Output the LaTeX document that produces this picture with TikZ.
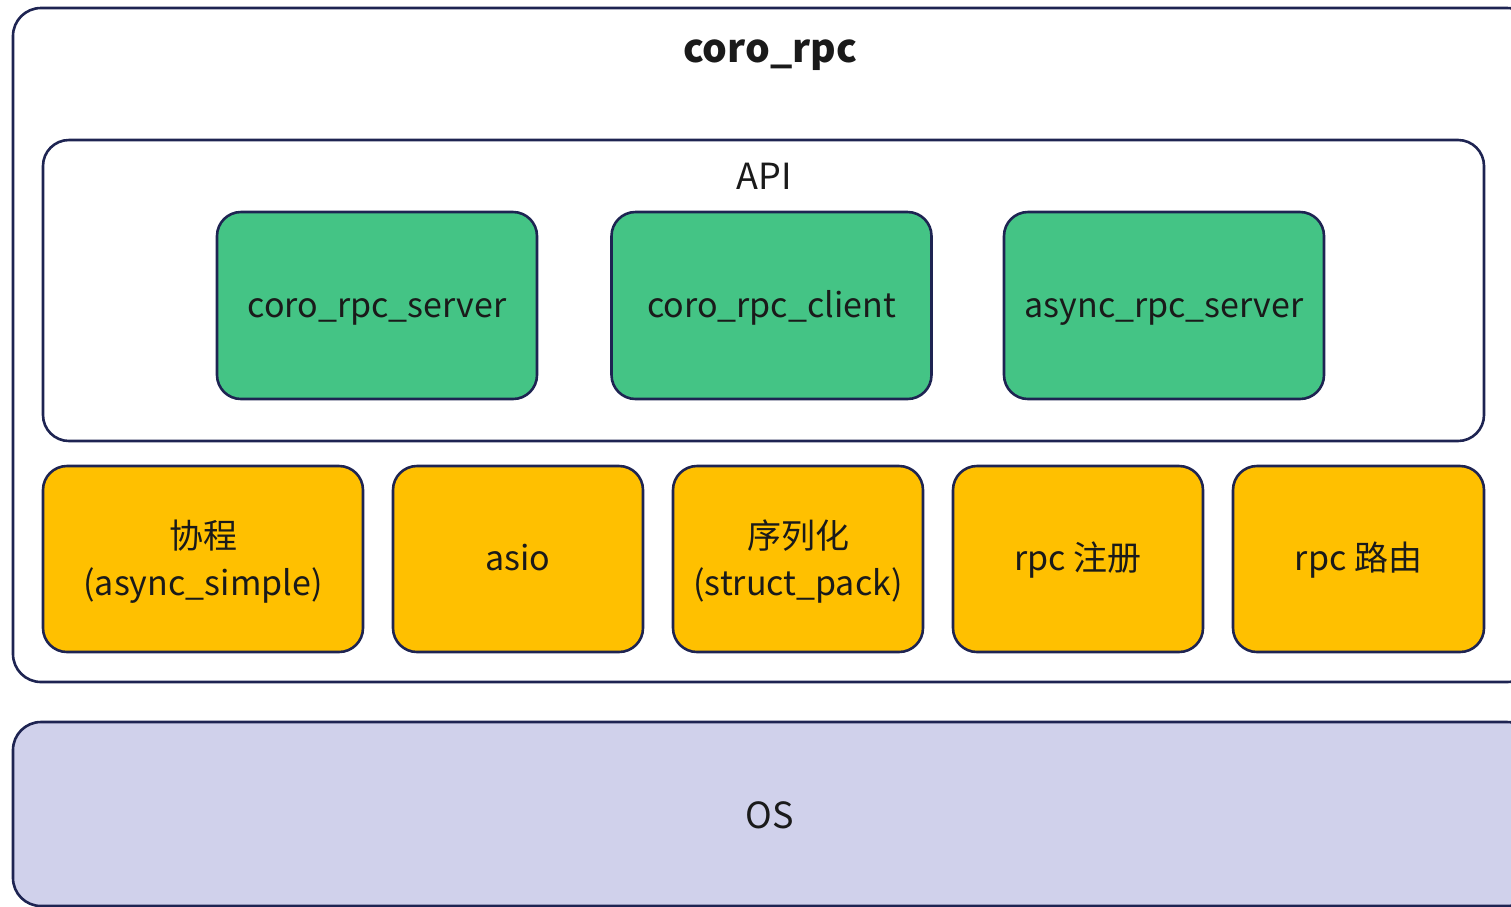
\documentclass[tikz,border=0pt]{standalone}
\usepackage{fontspec}
\setmainfont{Noto Sans CJK SC}
\begin{document}
\begin{tikzpicture}[x=1pt,y=-1pt,
  frame/.style={draw=navy, line width=2.6pt, rounded corners=26pt},
  greenbox/.style={frame, fill=grn, rounded corners=24pt},
  yellowbox/.style={frame, fill=ylw, rounded corners=24pt},
  lbl/.style={font=\fontsize{34}{47}\selectfont, text=txt, align=center},
  one/.style={text height=30pt, text depth=7pt},
  big/.style={text height=37pt, text depth=7pt}]
\definecolor{navy}{HTML}{1E2452}
\definecolor{grn}{HTML}{44C485}
\definecolor{ylw}{HTML}{FFC000}
\definecolor{osc}{HTML}{D0D1EB}
\definecolor{txt}{HTML}{1A1A1A}
\useasboundingbox (0,0) rectangle (1511,906);
\clip (0,0) rectangle (1511,906);
% outer
\draw[frame, rounded corners=28pt] (13,8) rectangle (1535,682);
\node[lbl, big, text height=38pt, font=\fontsize{39}{40}\selectfont\bfseries] (title) at (770,47) {coro\_rpc};
% API
\draw[frame] (43,140) rectangle (1484,441);
\node[lbl, big, text height=38pt, font=\fontsize{36}{40}\selectfont] (api) at (764,174) {API};
\node[greenbox, minimum width=320pt, minimum height=187pt, lbl, one] (s) at (377,305.5) {coro\_rpc\_server};
\node[greenbox, minimum width=320pt, minimum height=187pt, lbl, one] (c) at (771.5,305.5) {coro\_rpc\_client};
\node[greenbox, minimum width=320pt, minimum height=187pt, lbl, one] (a) at (1164,305.5) {async\_rpc\_server};
% yellow
\node[yellowbox, minimum width=320pt, minimum height=186pt] (y1) at (203,559) {};
\node[lbl] (y1t) at ([yshift=-3pt]y1.center) {协程\\(async\_simple)};
\node[yellowbox, minimum width=250pt, minimum height=186pt, lbl, one] (y2) at (518,559) {asio};
\node[yellowbox, minimum width=250pt, minimum height=186pt] (y3) at (798,559) {};
\node[lbl] (y3t) at ([yshift=-3pt]y3.center) {序列化\\(struct\_pack)};
\node[yellowbox, minimum width=250pt, minimum height=186pt, lbl, one] (y4) at (1078,559) {rpc 注册};
\node[yellowbox, minimum width=251pt, minimum height=186pt, lbl, one] (y5) at (1358.5,559) {rpc 路由};
% OS
\draw[frame, fill=osc, rounded corners=28pt] (13,722) rectangle (1535,906);
\node[lbl, big, text height=36pt, font=\fontsize{36}{40}\selectfont] (os) at (770,814) {OS};
\end{tikzpicture}
\end{document}
